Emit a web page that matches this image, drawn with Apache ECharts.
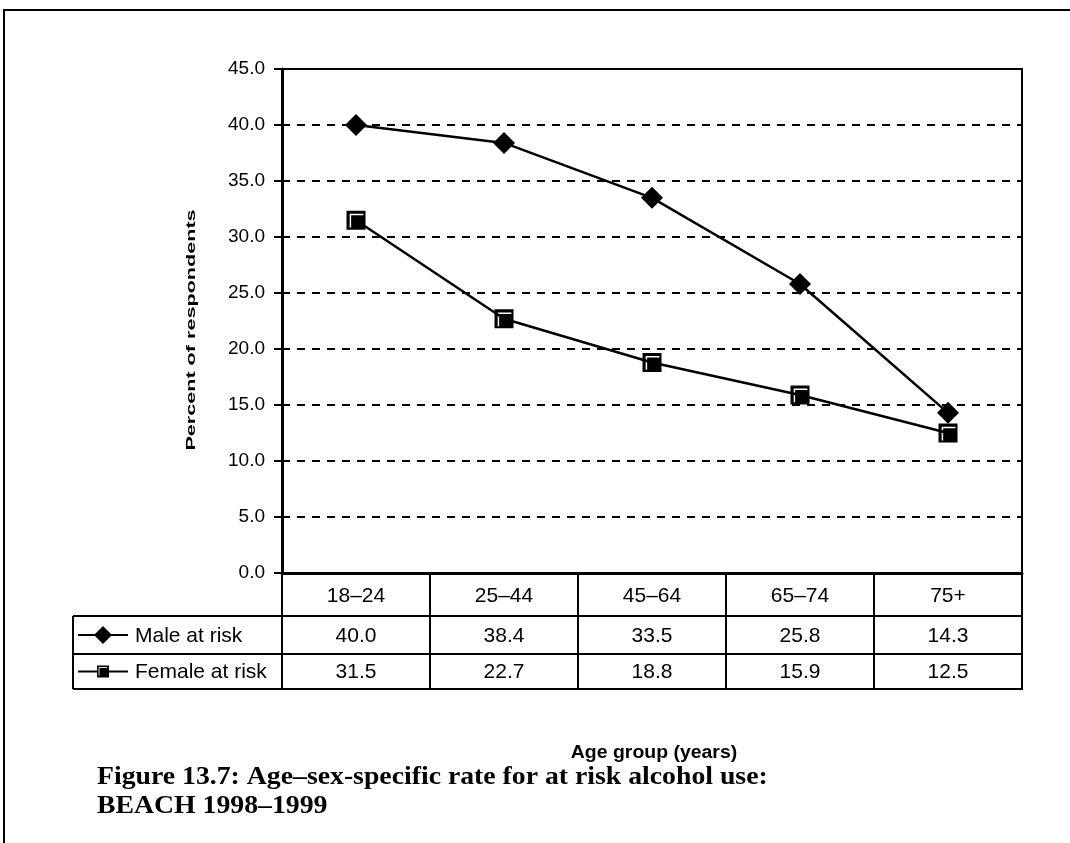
<!DOCTYPE html>
<html>
<head>
<meta charset="utf-8">
<script src="https://cdn.jsdelivr.net/npm/echarts@6/dist/echarts.min.js"></script>
<style>
  html, body { margin: 0; padding: 0; background: #fff; }
  #chart { width: 1070px; height: 843px; }
</style>
</head>
<body>
<div id="chart"></div>
<script>
// Age groups and at-risk rates (%)
const ageGroups = ['18\u201324', '25\u201344', '45\u201364', '65\u201374', '75+'];
const maleAtRisk = [40.0, 38.4, 33.5, 25.8, 14.3];
const femaleAtRisk = [31.5, 22.7, 18.8, 15.9, 12.5];
const seriesNames = ['Male at risk', 'Female at risk'];
const yTicks = { min: 0, max: 45, step: 5 };

const SANS = '"Liberation Sans", Arial, sans-serif';
const SERIF = '"Liberation Serif", "Times New Roman", serif';

// square marker with a light bevel along its top and left edges
const squareSymbol = 'path://M0 0H18V18H0Z M3 3V16H4.4V4.4H16V3Z';

const chart = echarts.init(document.getElementById('chart'), null, { renderer: 'canvas' });

const grid = { left: 282, right: 48, top: 69, bottom: 270 };

chart.setOption({
  animation: false,
  backgroundColor: '#fff',
  grid: Object.assign({ show: true, borderColor: '#000', borderWidth: 2, backgroundColor: 'transparent' }, grid),
  xAxis: {
    type: 'category',
    data: ageGroups,
    boundaryGap: true,
    axisLine: { lineStyle: { color: '#000', width: 3 } },
    axisTick: { show: true, inside: false, length: 116, lineStyle: { color: '#000', width: 2 } },
    axisLabel: { show: false }
  },
  yAxis: {
    type: 'value',
    min: yTicks.min,
    max: yTicks.max,
    interval: yTicks.step,
    axisLine: { show: true, lineStyle: { color: '#000', width: 3 } },
    axisTick: { show: true, length: 8, lineStyle: { color: '#000', width: 2 } },
    axisLabel: {
      color: '#000', fontFamily: SANS, fontSize: 19, margin: 17,
      formatter: v => v.toFixed(1)
    },
    splitLine: { show: true, lineStyle: { color: '#000', width: 2, type: [8, 7] } }
  },
  series: [
    {
      name: seriesNames[0],
      type: 'line',
      data: maleAtRisk,
      symbol: 'diamond',
      symbolSize: [22, 22],
      lineStyle: { color: '#000', width: 2.5 },
      itemStyle: { color: '#000' },
      z: 3
    },
    {
      name: seriesNames[1],
      type: 'line',
      data: femaleAtRisk,
      symbol: squareSymbol,
      symbolSize: [19, 19],
      lineStyle: { color: '#000', width: 2.5 },
      itemStyle: { color: '#000' },
      z: 3
    }
  ]
});

// data table under the plot, aligned with the category axis
const plotRight = 1070 - grid.right;
const axisY = chart.convertToPixel({ yAxisIndex: 0 }, 0);
const rowLines = [axisY + 43, axisY + 81, axisY + 116];
const tableLeft = 73;
const TABLE_FONT = 21;
const elements = [];

// outer frame of the figure
elements.push({
  type: 'rect', shape: { x: 4, y: 10, width: 1100, height: 900 },
  style: { fill: 'none', stroke: '#000', lineWidth: 2 }, silent: true
});

rowLines.forEach(y => {
  elements.push({
    type: 'line', shape: { x1: tableLeft, y1: y, x2: plotRight + 1, y2: y },
    style: { stroke: '#000', lineWidth: 2 }
  });
});
elements.push({
  type: 'line', shape: { x1: tableLeft, y1: rowLines[0], x2: tableLeft, y2: rowLines[2] },
  style: { stroke: '#000', lineWidth: 2 }
});

const rowCenters = [
  (axisY + rowLines[0]) / 2,
  (rowLines[0] + rowLines[1]) / 2,
  (rowLines[1] + rowLines[2]) / 2
];

function cellText(x, y, text, align) {
  return { type: 'text', x: x, y: y,
    style: { text: text, fontFamily: SANS, fontSize: TABLE_FONT, fill: '#000', align: align || 'center', verticalAlign: 'middle' } };
}

ageGroups.forEach((g, i) => {
  const cx = chart.convertToPixel({ xAxisIndex: 0 }, g);
  elements.push(cellText(cx, rowCenters[0] + 2, g));
  elements.push(cellText(cx, rowCenters[1] + 1, maleAtRisk[i].toFixed(1)));
  elements.push(cellText(cx, rowCenters[2] + 1, femaleAtRisk[i].toFixed(1)));
});

// legend keys inside the row headers
const keyX1 = 78, keyX2 = 128, keyMid = 103;
[1, 2].forEach(r => {
  const y = rowCenters[r];
  elements.push({ type: 'line', shape: { x1: keyX1, y1: y, x2: keyX2, y2: y },
    style: { stroke: '#000', lineWidth: 2 } });
  elements.push(cellText(135, y + 1, seriesNames[r - 1], 'left'));
});
elements.push({ type: 'polygon',
  shape: { points: [[keyMid, rowCenters[1] - 9], [keyMid + 9, rowCenters[1]], [keyMid, rowCenters[1] + 9], [keyMid - 9, rowCenters[1]]] },
  style: { fill: '#000' } });
elements.push({ type: 'rect', shape: { x: keyMid - 6, y: rowCenters[2] - 6, width: 12, height: 12 },
  style: { fill: '#000' } });
elements.push({ type: 'polyline', shape: { points: [[keyMid - 4, rowCenters[2] + 4], [keyMid - 4, rowCenters[2] - 4], [keyMid + 4, rowCenters[2] - 4]] },
  style: { stroke: '#ddd', lineWidth: 1, fill: 'none' } });

// y axis title, rotated and stretched along the axis
elements.push({ type: 'text', x: 192, y: 330, rotation: Math.PI / 2, scaleX: 1.8,
  style: { text: 'Percent of respondents', fontFamily: SANS, fontSize: 12, fontWeight: 'bold', fill: '#000', align: 'center', verticalAlign: 'middle' } });

// x axis title
elements.push({ type: 'text', x: 654, y: 753, scaleX: 1.08,
  style: { text: 'Age group (years)', fontFamily: SANS, fontSize: 18, fontWeight: 'bold', fill: '#000', align: 'center', verticalAlign: 'middle' } });

// figure caption
const captionStyle = { fontFamily: SERIF, fontSize: 25, fontWeight: 'bold', fill: '#000', align: 'left', verticalAlign: 'middle' };
elements.push({ type: 'text', x: 97, y: 778, scaleX: 1.11,
  style: Object.assign({ text: 'Figure 13.7: Age\u2013sex-specific rate for at risk alcohol use:' }, captionStyle) });
elements.push({ type: 'text', x: 97, y: 807, scaleX: 1.11,
  style: Object.assign({ text: 'BEACH 1998\u20131999' }, captionStyle) });

chart.setOption({ graphic: { elements: elements } });
</script>
</body>
</html>
